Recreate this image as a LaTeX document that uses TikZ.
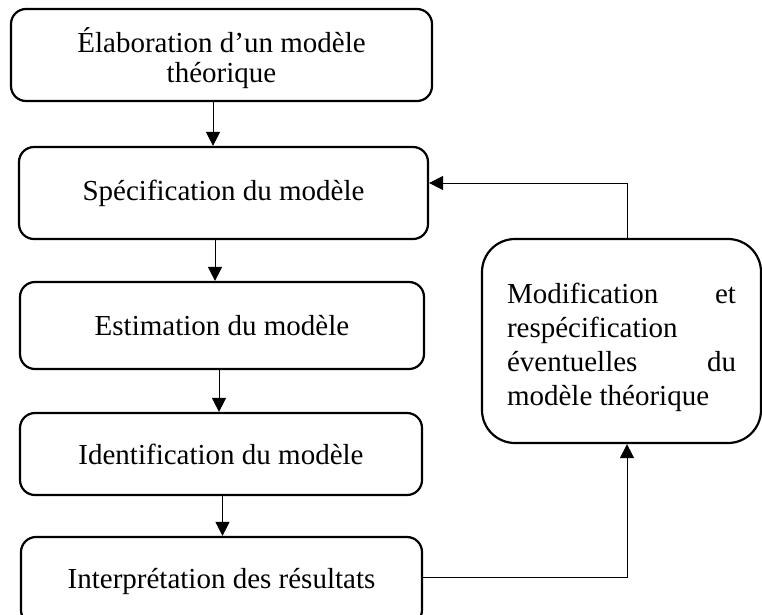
\documentclass[tikz,border=0pt]{standalone}
\usepackage{fontspec}
\setmainfont{Liberation Serif}
\usetikzlibrary{calc}
\usetikzlibrary{arrows.meta}
\tikzset{etape/.style={draw, line width=2.2pt, rounded corners=15pt, inner sep=0pt,
    font=\fontsize{29}{30}\selectfont, align=center},
  fleche/.style={line width=1pt, -{Triangle[length=14pt,width=14pt]}}}

\begin{document}
\begin{tikzpicture}[x=1pt,y=-1pt]
	\clip (0,0) rectangle (762,614);
	\node [etape, minimum width=421pt, minimum height=92pt] (elab) at (221.5,55) {\rule{0pt}{32pt}Élaboration d’un modèle\\théorique};
	\node [etape, minimum width=409pt, minimum height=92pt] (spec) at (223.5,193) {Spécification du modèle};
	\node [etape, minimum width=404pt, minimum height=87pt] (estim) at (222,325.5) {Estimation du modèle};
	\node [etape, minimum width=402pt, minimum height=82pt] (ident) at (221,454) {Identification du modèle};
	\node [etape, minimum width=401pt, minimum height=88pt] (interp) at (221.5,581) {Interprétation des résultats};
	\node [etape, rounded corners=33pt, minimum width=279pt, minimum height=204pt, text width=229pt,
	  align=justify, font=\fontsize{29}{34}\selectfont] (modif) at (621.5,341)
	  {\rule{0pt}{33pt}Modification\hfill et\\respécification\\éventuelles\hfill du\\modèle théorique};
	\draw [fleche] ([xshift=-8.5pt]elab.south) -- ([xshift=-8.5pt]elab.south |- spec.north);
	\draw [fleche] ([xshift=-8.5pt]spec.south) -- ([xshift=-8.5pt]spec.south |- estim.north);
	\draw [fleche] ([xshift=-3pt]estim.south) -- ([xshift=-3pt]estim.south |- ident.north);
	\draw [fleche] ([xshift=1.5pt]ident.south) -- ([xshift=1.5pt]ident.south |- interp.north);
	\draw [fleche] ([yshift=4pt]interp.east) -| ([xshift=5.5pt]modif.south);
	\draw [fleche] ([xshift=5.5pt]modif.north) |- ([yshift=10pt]spec.east);
\end{tikzpicture}
\end{document}
